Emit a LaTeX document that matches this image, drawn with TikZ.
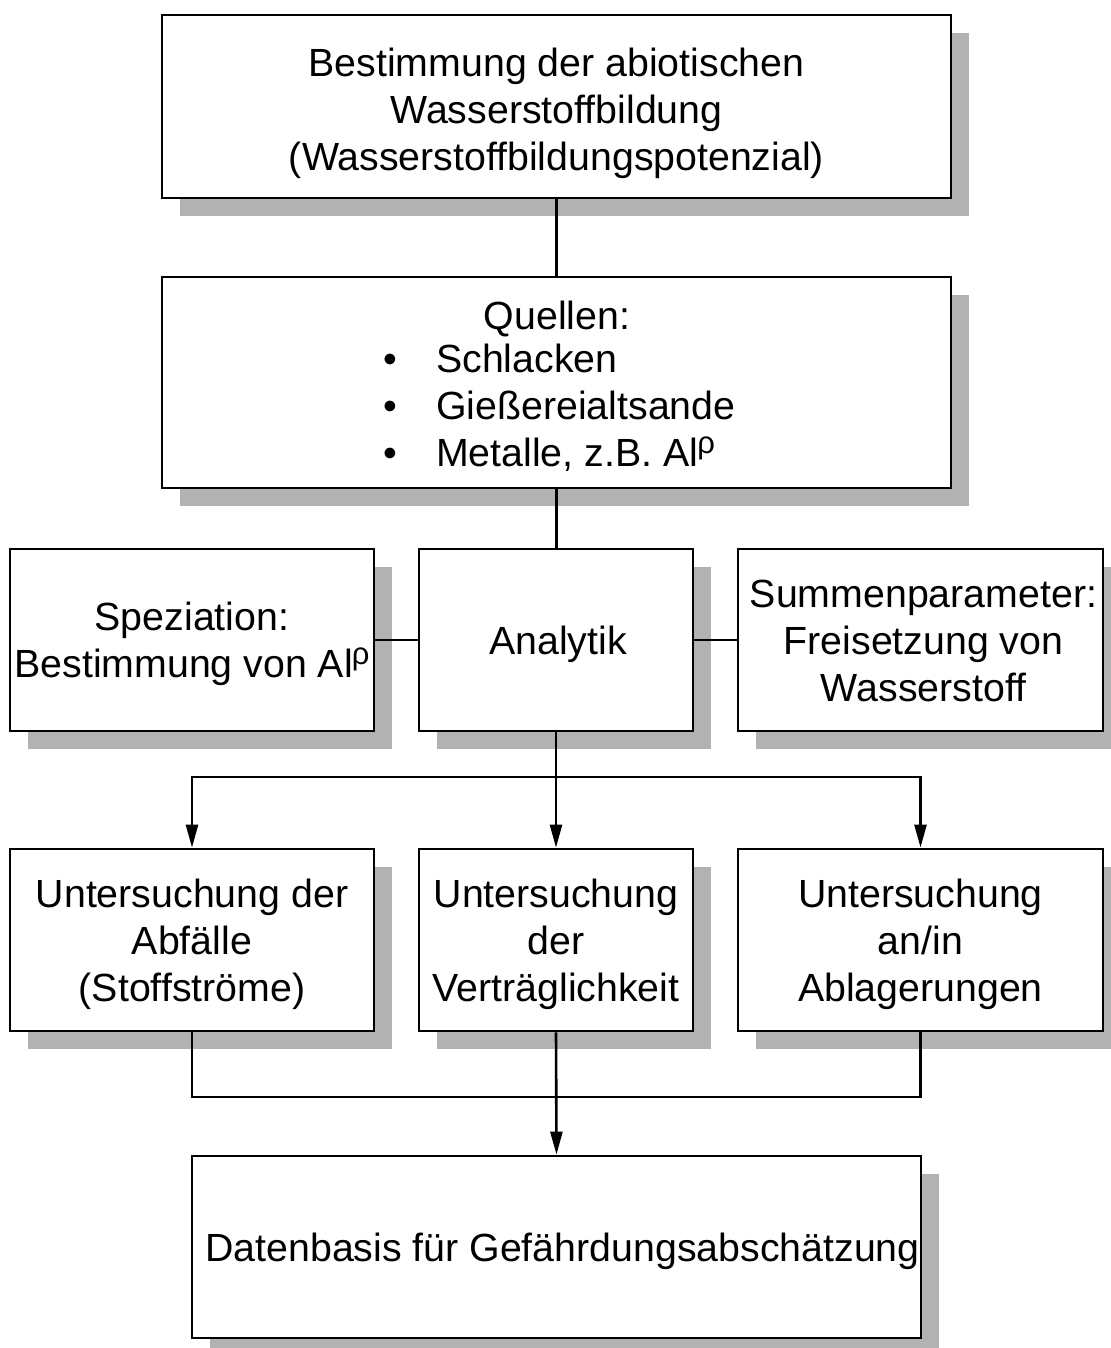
\documentclass[tikz,border=0pt]{standalone}
\usepackage{fontspec}
\setmainfont{Liberation Sans}
\usetikzlibrary{shadows,arrows.meta}
\newcommand\ftop{\rule{0pt}{36.5pt}}
\newcommand\ftopb{\rule{0pt}{42pt}}
\newcommand\lbot{\rule[-8.5pt]{0pt}{8.5pt}}
\newcommand\alrho{Al\kern-1pt\raisebox{13pt}{\fontsize{31}{31}\selectfont ρ}}
\begin{document}
\begin{tikzpicture}[x=1pt,y=-1pt,
  font=\fontsize{39.3}{47}\selectfont,
  box/.style={draw, line width=2.8pt, fill=white, align=center, inner sep=0pt,
    general shadow={fill=gray!60, shadow xshift=18pt, shadow yshift=-18pt}},
  ln/.style={line width=2.6pt},
  arr/.style={line width=2.6pt, -{Triangle[length=23pt,width=12pt]}},
  txt/.style={inner sep=0pt, anchor=base},
  itm/.style={inner sep=0pt, anchor=base west}]
\useasboundingbox (0,0) rectangle (1110,1348);

\node[box, minimum width=789pt, minimum height=183pt] (top) at (556.5,106.5)
  {\ftopb Bestimmung der abiotischen\\Wasserstoffbildung\\(Wasserstoffbildungspotenzial)\lbot};

\node[box, minimum width=789pt, minimum height=211pt] (src) at (556.5,382.5) {};
\node[txt] (q0) at (557,329) {Quellen:};
\node[itm] (q1) at (383,372) {\makebox[53pt][l]{•}Schlacken};
\node[itm] (q2) at (383,419) {\makebox[53pt][l]{•}Gießereialtsande};
\node[itm] (q3) at (383,466) {\makebox[53pt][l]{•}Metalle, z.B. \alrho};

\node[box, minimum width=364pt, minimum height=182pt] (spez) at (192,640)
  {\ftop Speziation:\\Bestimmung von \alrho\lbot};
\node[box, minimum width=274pt, minimum height=182pt] (ana) at (556,640)
  {\ftop\hspace*{4pt}Analytik\lbot};
\node[box, minimum width=365pt, minimum height=182pt] (sum) at (920.5,640)
  {\ftop\hspace*{6pt}Summenparameter:\\\hspace*{6pt}Freisetzung von\\\hspace*{6pt}Wasserstoff\lbot};

\node[box, minimum width=364pt, minimum height=182pt] (abf) at (192,940)
  {\ftop Untersuchung der\\Abfälle\\(Stoffströme)\lbot};
\node[box, minimum width=274pt, minimum height=182pt] (ver) at (556,940)
  {\ftop Untersuchung\\der\\Verträglichkeit\lbot};
\node[box, minimum width=365pt, minimum height=182pt] (abl) at (920.5,940)
  {\ftop Untersuchung\\an/in\\Ablagerungen\lbot};

\node[box, minimum width=729pt, minimum height=182pt] (dat) at (556.5,1247)
  {\ftop\hspace*{12pt}Datenbasis für Gefährdungsabschätzung\lbot};

\coordinate (br) at (556,777);
\coordinate (cl) at (556,1097);

\draw[ln] (top.south) -- (src.north);
\draw[ln] (src.south) -- (src.south |- ana.north);
\draw[ln] (spez.east) -- (ana.west);
\draw[ln] (ana.east) -- (sum.west);
\draw[arr] (ana.south) -- (ver.north);
\draw[arr] (br) -| (abf.north);
\draw[arr] (br) -| (abl.north);
\draw[ln] (abf.south) -- (abf.south |- cl) -- (abl.south |- cl) -- (abl.south);
\draw[arr] (ver.south) -- (dat.north);
\end{tikzpicture}
\end{document}
